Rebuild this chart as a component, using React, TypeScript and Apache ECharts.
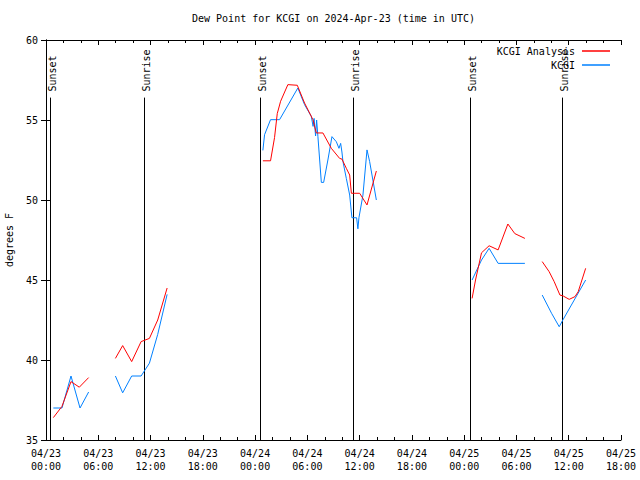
import React, { useEffect, useRef } from "react";
import * as echarts from "echarts";

// Hours since 04/23 00:00 UTC
const analysisHours = [
  0.843, 1.833, 2.869, 3.822, 4.894, 6.4,
  7.965, 8.799, 9.835, 10.916, 11.87, 12.823, 13.904, 18,
  24.894, 25.774, 26.232, 26.544, 26.929, 27.763, 28.845, 29.678, 30.641, 31.026, 31.787, 32.749, 33.702, 33.968, 34.472, 34.857, 35.05, 36.003, 36.846, 37.918, 43,
  48.908, 49.302, 49.99, 50.861, 51.896, 53.014, 53.812, 54.967, 56,
  56.956, 57.753, 58.331, 58.99, 59.366, 60.054, 60.714, 61.089, 61.942,
];
const analysisValues: (number | null)[] = [
  36.4, 37.1, 38.65, 38.3, 38.9, null,
  40.1, 40.9, 39.9, 41.15, 41.35, 42.5, 44.5, null,
  52.45, 52.45, 53.9, 55.4, 56.17, 57.21, 57.17, 56.06, 55.02, 54.19, 54.19, 53.23, 52.6, 52.56, 51.98, 51.56, 50.42, 50.42, 49.69, 51.81, null,
  43.85, 45.0, 46.7, 47.14, 46.88, 48.5, 47.9, 47.6, null,
  46.15, 45.52, 44.9, 44.06, 44.0, 43.79, 43.96, 44.27, 45.73,
];

const obsHours = [
  0.843, 1.833, 2.869, 3.905, 4.894, 6.4,
  7.965, 8.799, 9.835, 10.916, 11.87, 12.823, 13.904, 18,
  24.894, 25.086, 25.774, 26.81, 28.909, 29.678, 30.448, 30.659, 30.769, 30.944, 31.063, 31.209, 31.603, 31.869, 32.355, 32.823, 33.326, 33.629, 33.821, 33.968, 34.087, 34.472, 34.857, 35.114, 35.654, 35.801, 35.919, 36.378, 36.846, 37.149, 37.918, 43,
  48.908, 49.99, 50.861, 51.896, 54.967, 56,
  56.956, 58.028, 58.908, 59.366, 61.942,
];
const obsValues: (number | null)[] = [
  37.0, 37.0, 39.0, 37.0, 38.0, null,
  39.0, 37.95, 39.0, 39.0, 39.8, 41.6, 44.1, null,
  53.1, 54.08, 55.02, 55.02, 57.0, 55.96, 55.23, 54.6, 55.1, 54.0, 55.0, 53.98, 51.1, 51.1, 52.5, 53.96, 53.64, 53.23, 53.54, 53.0, 52.4, 51.35, 50.31, 48.89, 48.89, 48.2, 48.89, 50.3, 53.13, 52.4, 50.0, null,
  45.0, 46.25, 46.98, 46.04, 46.04, null,
  44.06, 42.92, 42.08, 42.54, 45.0,
];

const sunHours = [0.46, 11.22, 24.51, 35.23, 48.64, 59.25];
const sunLabels = ["Sunset", "Sunrise", "Sunset", "Sunrise", "Sunset", "Sunrise"];

const yTicks = { min: 35, max: 60, step: 5 };
const xRange = { min: 0, max: 66, step: 6 };

const FONT = '"DejaVu Sans Mono", monospace';

function toData(hours: number[], values: (number | null)[]) {
  return hours.map((h, i) => [h, values[i] === null ? "-" : values[i]]);
}

function xLabel(h: number) {
  const day = 23 + Math.floor(h / 24);
  const hh = h % 24;
  return `04/${day}\n${String(hh).padStart(2, "0")}:00`;
}

export default function App() {
  const ref = useRef<HTMLDivElement>(null);
  useEffect(() => {
    if (!ref.current) return;
    const chart = echarts.init(ref.current, undefined, { renderer: "svg" });
    const sunTop = 56.4;
    const xCommon = {
      type: "value",
      min: xRange.min,
      max: xRange.max,
      interval: xRange.step,
      splitLine: { show: false },
      axisLine: { show: true, lineStyle: { color: "#000", width: 1 } },
      axisTick: { show: true, inside: true, length: 5, lineStyle: { color: "#000" } },
      minorTick: { show: true, splitNumber: 3, length: 3, lineStyle: { color: "#000" } },
    };
    const yCommon = {
      type: "value",
      min: yTicks.min,
      max: yTicks.max,
      interval: yTicks.step,
      splitLine: { show: false },
      axisLine: { show: true, lineStyle: { color: "#000", width: 1 } },
      axisTick: { show: true, inside: true, length: 5, lineStyle: { color: "#000" } },
    };
    chart.setOption({
      animation: false,
      backgroundColor: "#fff",
      textStyle: { fontFamily: FONT },
      title: {
        text: "Dew Point for KCGI on 2024-Apr-23 (time in UTC)",
        left: 192,
        top: 13,
        padding: 0,
        textStyle: { fontFamily: FONT, fontSize: 10, fontWeight: "normal", color: "#000" },
      },
      legend: {
        data: ["KCGI Analysis", "KCGI"],
        orient: "vertical",
        right: 30,
        top: 45,
        align: "right",
        icon: "rect",
        itemWidth: 28,
        itemHeight: 1.5,
        itemGap: 2,
        padding: 0,
        textStyle: { fontFamily: FONT, fontSize: 10, color: "#000", lineHeight: 12, padding: [0, 2, 0, 0] },
      },
      grid: { left: 46, right: 19, top: 40, bottom: 40, outerBoundsMode: "none", containLabel: false },
      xAxis: [
        {
          ...xCommon,
          position: "bottom",
          axisLabel: {
            show: true,
            margin: 7,
            fontFamily: FONT,
            fontSize: 10,
            lineHeight: 13,
            color: "#000",
            formatter: (v: number) => xLabel(v),
          },
        },
        { ...xCommon, position: "top", axisLabel: { show: false } },
      ],
      yAxis: [
        {
          ...yCommon,
          position: "left",
          name: "degrees F",
          nameLocation: "middle",
          nameRotate: 90,
          nameGap: 32,
          nameTextStyle: { fontFamily: FONT, fontSize: 10, color: "#000" },
          axisLabel: { show: true, margin: 8, fontFamily: FONT, fontSize: 10, color: "#000" },
        },
        { ...yCommon, position: "right", axisLabel: { show: false } },
      ],
      series: [
        {
          name: "KCGI Analysis",
          type: "line",
          data: toData(analysisHours, analysisValues),
          showSymbol: false,
          symbol: "none",
          connectNulls: false,
          lineStyle: { color: "#ff0000", width: 1 },
          itemStyle: { color: "#ff0000" },
          z: 3,
        },
        {
          name: "KCGI",
          type: "line",
          data: toData(obsHours, obsValues),
          showSymbol: false,
          symbol: "none",
          connectNulls: false,
          lineStyle: { color: "#0080ff", width: 1 },
          itemStyle: { color: "#0080ff" },
          z: 2,
        },
        {
          name: "sun",
          type: "custom",
          data: sunHours.map((h) => [h, yTicks.min]),
          encode: { x: 0, y: 1 },
          clip: false,
          z: 1,
          renderItem: (params: any, api: any) => {
            const h = api.value(0);
            const p1 = api.coord([h, yTicks.min]);
            const p2 = api.coord([h, sunTop]);
            const lx = Math.round(p1[0]) + 0.5;
            return {
              type: "group",
              children: [
                {
                  type: "line",
                  shape: { x1: lx, y1: p1[1], x2: lx, y2: p2[1] },
                  style: { stroke: "#000", lineWidth: 1 },
                },
                {
                  type: "text",
                  x: lx + 1.5,
                  y: p2[1] - 6,
                  rotation: Math.PI / 2,
                  style: {
                    text: sunLabels[params.dataIndex],
                    fill: "#000",
                    font: `10px ${FONT}`,
                    align: "left",
                    verticalAlign: "middle",
                  },
                },
              ],
            };
          },
        },
      ],
    });
    return () => chart.dispose();
  }, []);
  return (
    <div
      ref={ref}
      style={{ position: "fixed", left: 0, top: 0, width: 640, height: 480 }}
    />
  );
}
